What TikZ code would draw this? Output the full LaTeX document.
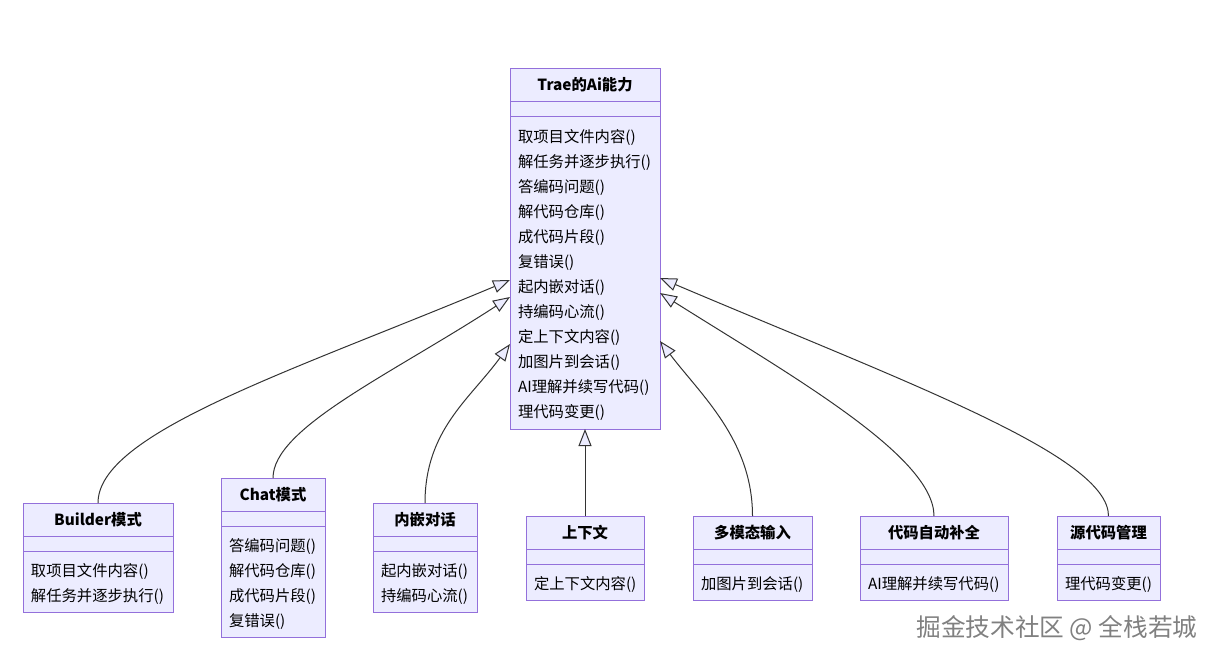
\documentclass[tikz,border=0pt]{standalone}
\usepackage{fontspec}
\setmainfont{Noto Sans CJK SC}
\usetikzlibrary{positioning,arrows.meta}
\definecolor{clsfill}{HTML}{ECECFF}
\definecolor{clsline}{HTML}{9370DB}
\definecolor{linkgray}{HTML}{333333}
\tikzset{
clsbox/.style={
  draw=clsline,
  fill=clsfill,
  line width=0.75pt,
  outer sep=0pt,
  inner xsep=6pt,
  inner ysep=0pt
  },
clshead/.style={clsbox, anchor=north, minimum width=#1, minimum height=24.75pt,
  font=\bfseries\fontsize{11.5}{13}\selectfont},
clsattr/.style={clsbox, minimum width=#1, minimum height=11.25pt},
clsops/.style={clsbox, text width=#1, align=left,
  font=\fontsize{11.5}{18.75}\selectfont,
  execute at begin node=\rule{0pt}{13pt}},
inherit/.style={draw=linkgray, line width=0.75pt,
  -{Triangle[fill=clsfill, length=12.75pt, width=9.75pt]}}
}

\begin{document}
\begin{tikzpicture}[x=0.75pt,y=-0.75pt]
\useasboundingbox (0,0) rectangle (1220,662);

% parent class
\node[clshead=112.5pt] (ai-head) at (585,68) {Trae的Ai能力};
\node[clsattr=112.5pt, below=0pt of ai-head] (ai-attr) {};
\node[clsops=100.5pt, minimum height=234.75pt, below=0pt of ai-attr] (ai-ops)
  {取项目文件内容()\\解任务并逐步执行()\\答编码问题()\\解代码仓库()\\成代码片段()\\复错误()\\
   起内嵌对话()\\持编码心流()\\定上下文内容()\\加图片到会话()\\AI理解并续写代码()\\理代码变更()};

% child classes
\node[clshead=112.5pt] (bld-head) at (98,503) {Builder模式};
\node[clsattr=112.5pt, below=0pt of bld-head] (bld-attr) {};
\node[clsops=100.5pt, minimum height=45.75pt, below=0pt of bld-attr] (bld-ops)
  {取项目文件内容()\\解任务并逐步执行()};

\node[clshead=78pt] (chat-head) at (273,478) {Chat模式};
\node[clsattr=78pt, below=0pt of chat-head] (chat-attr) {};
\node[clsops=66pt, minimum height=83.25pt, below=0pt of chat-attr] (chat-ops)
  {答编码问题()\\解代码仓库()\\成代码片段()\\复错误()};

\node[clshead=78pt] (inl-head) at (425,503) {内嵌对话};
\node[clsattr=78pt, below=0pt of inl-head] (inl-attr) {};
\node[clsops=66pt, minimum height=45.75pt, below=0pt of inl-attr] (inl-ops)
  {起内嵌对话()\\持编码心流()};

\node[clshead=88.5pt] (ctx-head) at (585,516) {上下文};
\node[clsattr=88.5pt, below=0pt of ctx-head] (ctx-attr) {};
\node[clsops=76.5pt, minimum height=27pt, below=0pt of ctx-attr] (ctx-ops)
  {定上下文内容()};

\node[clshead=89.25pt] (mm-head) at (752.5,516) {多模态输入};
\node[clsattr=89.25pt, below=0pt of mm-head] (mm-attr) {};
\node[clsops=77.25pt, minimum height=27pt, below=0pt of mm-attr] (mm-ops)
  {加图片到会话()};

\node[clshead=111pt] (cpl-head) at (934,516) {代码自动补全};
\node[clsattr=111pt, below=0pt of cpl-head] (cpl-attr) {};
\node[clsops=99pt, minimum height=27pt, below=0pt of cpl-attr] (cpl-ops)
  {AI理解并续写代码()};

\node[clshead=77.25pt] (scm-head) at (1108.5,516) {源代码管理};
\node[clsattr=77.25pt, below=0pt of scm-head] (scm-attr) {};
\node[clsops=65.25pt, minimum height=27pt, below=0pt of scm-attr] (scm-ops)
  {理代码变更()};

% arrow ends on the parent
\coordinate (in-bld) at ([yshift=-123pt]ai-ops.north west);
\coordinate (in-chat) at ([yshift=-135.75pt]ai-ops.north west);
\coordinate (in-inl) at ([yshift=-171pt]ai-ops.north west);
\coordinate (in-scm) at ([yshift=-121.5pt]ai-ops.north east);
\coordinate (in-cpl) at ([yshift=-132.75pt]ai-ops.north east);
\coordinate (in-mm) at ([yshift=-168.75pt]ai-ops.north east);

\draw[inherit] (bld-head.north) .. controls +(0,-70) and +(-220,92) .. (in-bld);
\draw[inherit] (chat-head.north) .. controls +(0,-50) and +(-120,78) .. (in-chat);
\draw[inherit] (inl-head.north) .. controls +(0,-73) and +(-40,55) .. (in-inl);
\draw[inherit] (ctx-head.north) -- (ai-ops.south);
\draw[inherit] (mm-head.north) .. controls +(0,-76) and +(40,53) .. (in-mm);
\draw[inherit] (cpl-head.north) .. controls +(0,-60) and +(130,82) .. (in-cpl);
\draw[inherit] (scm-head.north) .. controls +(0,-60) and +(250,106) .. (in-scm);

\node[font=\fontsize{18.5}{20}\selectfont, text=gray] (mark) at (1057,628) {掘金技术社区 @ 全栈若城};
\end{tikzpicture}
\end{document}
